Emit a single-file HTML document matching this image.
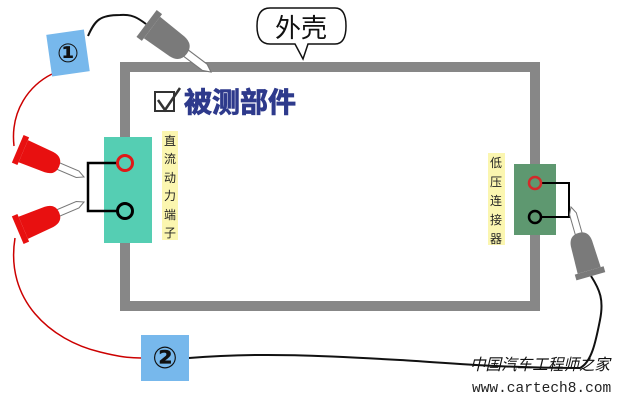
<!DOCTYPE html>
<html><head><meta charset="utf-8"><style>
html,body{margin:0;padding:0;background:#fff;}
svg{display:block;}
.cj{font-family:"Liberation Sans","Noto Sans CJK SC",sans-serif;}
</style></head><body>
<svg width="618" height="402" viewBox="0 0 618 402" xmlns="http://www.w3.org/2000/svg">
<defs>
<g id="probe">
  <polygon points="0,0 -7,-3.5 -30,-3.5 -30,3.5 -7,3.5" fill="#fff" stroke="#777" stroke-width="1"/>
  <path d="M-27,0 Q-27,-10 -38,-11 L-66,-12 L-66,12 L-38,11 Q-27,10 -27,0 Z" fill="currentColor"/>
  <rect x="-72" y="-15" width="6" height="30" fill="currentColor"/>
</g>
</defs>
<!-- wires -->
<path d="M88,36 C95,20 100,15 120,15 C132,14 138,18 146,24" fill="none" stroke="#111" stroke-width="2"/>
<path d="M52,74 C30,85 10,110 14,146" fill="none" stroke="#c00" stroke-width="1.5"/>
<path d="M15,238 C5,300 50,340 100,352 C120,357 130,358 141,358" fill="none" stroke="#c00" stroke-width="1.5"/>
<path d="M189,358 C260,352 330,356 400,360 C450,363 500,368 580,368 C592,362 596,340 600,320 C604,300 600,290 591,276" fill="none" stroke="#111" stroke-width="2"/>
<!-- frame -->
<rect x="125" y="67" width="410" height="239" fill="#fff" stroke="#878787" stroke-width="10"/>
<!-- bubble -->
<path d="M270,8 L335,8 Q346,8 346,26 Q346,44 335,44 L308,44 L303,59 L295,44 L270,44 Q257,44 257,26 Q257,8 270,8 Z" fill="#fff" stroke="#111" stroke-width="1.5"/>
<text x="301" y="37" text-anchor="middle" class="cj" font-size="26" fill="#111">外壳</text>
<!-- title -->
<rect x="155" y="92" width="19" height="19" fill="#fff" stroke="#333" stroke-width="2"/>
<path d="M158,100 L165,110 L180,88" fill="none" stroke="#333" stroke-width="2.5"/>
<text x="184" y="112" class="cj" font-size="28" font-weight="bold" fill="#2e3a8c" stroke="#2e3a8c" stroke-width="0.8">被测部件</text>
<!-- left connector -->
<rect x="104" y="137" width="48" height="106" fill="#55ceb3"/>
<path d="M118,163 H88 V211 H118" fill="none" stroke="#000" stroke-width="2.5"/>
<circle cx="125" cy="163" r="7.5" fill="#55ceb3" stroke="#e01818" stroke-width="3"/>
<circle cx="125" cy="211" r="7.5" fill="#55ceb3" stroke="#000" stroke-width="3"/>
<g class="cj" font-size="12" fill="#222">
<rect x="162" y="131" width="16" height="109" fill="#fbf6b0"/>
<text x="170" y="145" text-anchor="middle">直</text>
<text x="170" y="163" text-anchor="middle">流</text>
<text x="170" y="182" text-anchor="middle">动</text>
<text x="170" y="200" text-anchor="middle">力</text>
<text x="170" y="219" text-anchor="middle">端</text>
<text x="170" y="237" text-anchor="middle">子</text>
</g>
<!-- right connector -->
<rect x="514" y="164" width="42" height="71" fill="#5e9870"/>
<path d="M542,183 H569 V217 H542" fill="none" stroke="#000" stroke-width="2"/>
<circle cx="535" cy="183" r="6" fill="#5e9870" stroke="#d42a2a" stroke-width="2.5"/>
<circle cx="535" cy="217" r="6" fill="#5e9870" stroke="#000" stroke-width="2.5"/>
<g class="cj" font-size="12" fill="#222">
<rect x="488" y="153" width="17" height="92" fill="#fbf6b0"/>
<text x="496" y="167" text-anchor="middle">低</text>
<text x="496" y="186" text-anchor="middle">压</text>
<text x="496" y="205" text-anchor="middle">连</text>
<text x="496" y="224" text-anchor="middle">接</text>
<text x="496" y="243" text-anchor="middle">器</text>
</g>
<!-- probes -->
<use href="#probe" transform="translate(84,177) rotate(23)" style="color:#e81010"/>
<use href="#probe" transform="translate(84,202) rotate(-23)" style="color:#e81010"/>
<use href="#probe" transform="translate(211,72) rotate(37) scale(1.12)" style="color:#7a7a7a"/>
<use href="#probe" transform="translate(571,207) rotate(-106)" style="color:#7a7a7a"/>
<!-- number boxes -->
<rect x="49" y="32" width="38" height="42" fill="#77b8ec" transform="rotate(-8 68 53)"/>
<text x="68" y="62" text-anchor="middle" font-family="DejaVu Sans,sans-serif" font-size="26" font-weight="bold" fill="#111">①</text>
<rect x="141" y="335" width="48" height="46" fill="#77b8ec"/>
<text x="165" y="368" text-anchor="middle" font-family="DejaVu Sans,sans-serif" font-size="30" font-weight="bold" fill="#111">②</text>
<!-- watermark -->
<text x="470" y="370" class="cj" font-size="16" fill="#111" font-style="italic" textLength="140" lengthAdjust="spacingAndGlyphs">中国汽车工程师之家</text>
<text x="472" y="392" font-family="Liberation Mono,monospace" font-size="14.5" fill="#222">www.cartech8.com</text>
</svg>
</body></html>
